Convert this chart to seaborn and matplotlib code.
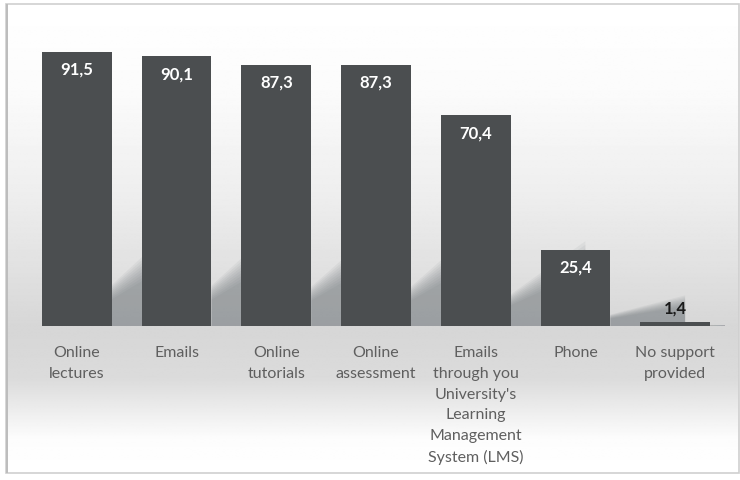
import numpy as np
import pandas as pd
import matplotlib
matplotlib.use("Agg")
import matplotlib.pyplot as plt
from matplotlib.patches import Rectangle, Polygon
import seaborn as sns

categories = [
    "Online\nlectures",
    "Emails",
    "Online\ntutorials",
    "Online\nassessment",
    "Emails\nthrough you\nUniversity's\nLearning\nManagement\nSystem (LMS)",
    "Phone",
    "No support\nprovided",
]
values = [91.5, 90.1, 87.3, 87.3, 70.4, 25.4, 1.4]
value_labels = ["91,5", "90,1", "87,3", "87,3", "70,4", "25,4", "1,4"]

sns.set_theme(style="white")
plt.rcParams["font.family"] = ["Lato", "DejaVu Sans"]

W, H = 740, 481
fig = plt.figure(figsize=(W / 100, H / 100), dpi=100)

# background panel with a soft vertical gradient
bg = fig.add_axes([6 / W, 1 - 473 / H, (739 - 6) / W, (473 - 5) / H])
ys = np.linspace(0, 1, 400)  # 0 = top, 1 = bottom of the panel
pix_y = 5 + ys * (473 - 5)
shade = np.interp(pix_y, [5, 90, 200, 330, 380, 440, 473],
                  [1.0, 0.985, 0.93, 0.84, 0.86, 0.99, 1.0])
grad = np.repeat(shade[:, None], 2, axis=1)
bg.imshow(grad, cmap="gray", vmin=0, vmax=1, aspect="auto",
          extent=[0, 1, 0, 1], origin="upper", interpolation="bilinear")
bg.set_xlim(0, 1)
bg.set_ylim(0, 1)
bg.axis("off")

# frame around the chart
fig.patches.append(Rectangle((6 / W, 1 - 474 / H), (739 - 6) / W, (474 - 5) / H,
                             transform=fig.transFigure, fill=False,
                             edgecolor="#cfcfcf", linewidth=1.2))
fig.patches.append(Rectangle((6 / W, 1 - 474 / H), 2 / W, (474 - 5) / H,
                             transform=fig.transFigure, fill=True,
                             facecolor="#bdbdbd", edgecolor="none"))

# chart area
x0, x1 = 27, 725
base, top = 327, 327 - 100 * 2.995
ax = fig.add_axes([x0 / W, 1 - base / H, (x1 - x0) / W, (base - top) / H])
ax.patch.set_alpha(0)

df = pd.DataFrame({"cat": categories, "val": values})

# soft slanted shadows cast to the right of each bar
for i, v in enumerate(values):
    xr = i + 0.35
    span = 0.75
    for s in np.linspace(0.75, 1.15, 9):
        h_near = v * 0.13 * s
        h_far = v * 0.13 * s + v * 0.22 * s
        poly = Polygon([(xr, 0), (xr, h_near), (xr + span, h_far), (xr + span, 0)],
                       closed=True, facecolor="#626a6f", edgecolor="none",
                       alpha=0.07, zorder=1)
        ax.add_patch(poly)

sns.barplot(data=df, x="cat", y="val", color="#4b4e50", saturation=1,
            width=0.70, ax=ax, zorder=3, edgecolor="none", linewidth=0)

for i, (v, lab) in enumerate(zip(values, value_labels)):
    if v > 10:
        ax.text(i, v - 3.0, lab, ha="center", va="top", color="white",
                fontsize=12, fontweight="bold", zorder=4)
    else:
        ax.text(i, v + 2.0, lab, ha="center", va="bottom", color="#1a1a1a",
                fontsize=12, fontweight="bold", zorder=4)

ax.set_xlim(-0.5, len(values) - 0.5)
ax.set_ylim(0, 100)
ax.set_xlabel("")
ax.set_ylabel("")
ax.set_yticks([])
ax.tick_params(axis="x", length=0, pad=14)
ax.set_xticks(range(len(categories)))
ax.set_xticklabels(categories, fontsize=11.5, color="#5f5f5f",
                   linespacing=1.6, va="top")
for s in ax.spines.values():
    s.set_visible(False)

fig.savefig("out.png", dpi=100)
